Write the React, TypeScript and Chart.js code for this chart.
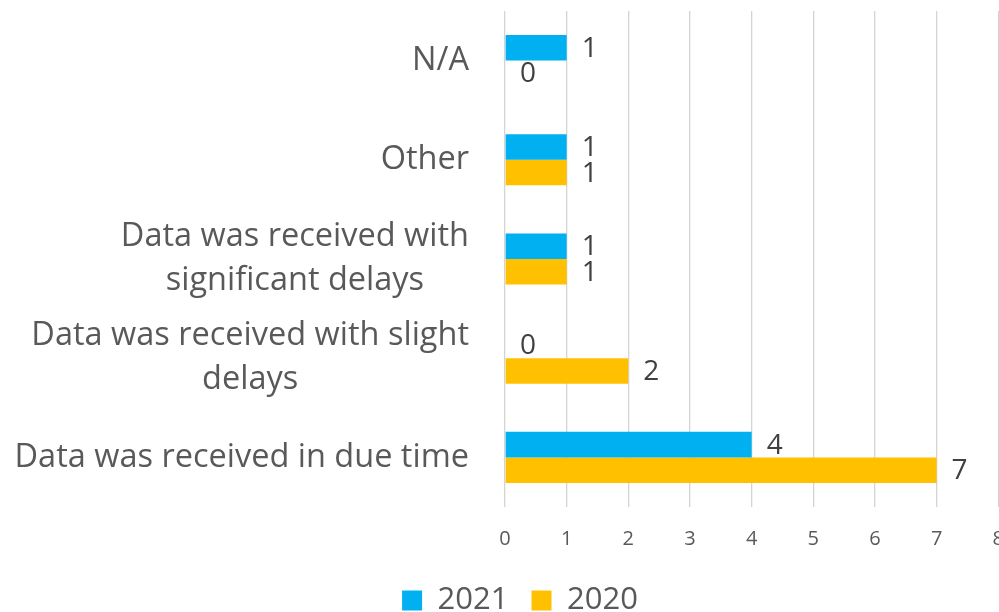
import React, { useEffect, useRef } from "react";
import { Chart, registerables } from "chart.js";

Chart.register(...registerables);

const categories: string[][] = [
  ["N/A"],
  ["Other"],
  ["Data was received with", "significant delays"],
  ["Data was received with slight", "delays"],
  ["Data was received in due time"],
];
const seriesNames = ["2021", "2020"];
const values2021 = [1, 1, 1, 0, 4];
const values2020 = [0, 1, 1, 2, 7];
const xMin = 0;
const xMax = 8;
const xStep = 1;

const FONT = "'Open Sans', sans-serif";
const BLUE = "#00B0F0";
const GOLD = "#FFC000";

const labelPlugin = {
  id: "customLabels",
  afterDatasetsDraw(chart: any) {
    const ctx = chart.ctx as CanvasRenderingContext2D;
    ctx.save();
    // data labels
    ctx.font = `28px ${FONT}`;
    ctx.fillStyle = "#404040";
    ctx.textAlign = "left";
    ctx.textBaseline = "middle";
    chart.data.datasets.forEach((ds: any, di: number) => {
      const meta = chart.getDatasetMeta(di);
      meta.data.forEach((bar: any, i: number) => {
        ctx.fillText(String(ds.data[i]), bar.x + 15, bar.y + 1);
      });
    });
    // category labels
    const yScale = chart.scales.y;
    const right = chart.chartArea.left - 36;
    ctx.font = `32.5px ${FONT}`;
    ctx.fillStyle = "#595959";
    ctx.textAlign = "center";
    chart.data.labels.forEach((lab: any, i: number) => {
      const lines: string[] = Array.isArray(lab) ? lab : [lab];
      const w = Math.max(...lines.map((l) => ctx.measureText(l).width));
      const cx = right - w / 2;
      const cy = yScale.getPixelForValue(i);
      lines.forEach((l, j) => {
        ctx.fillText(l, cx, cy + (j - (lines.length - 1) / 2) * 44);
      });
    });
    ctx.restore();
  },
};

export default function App() {
  const ref = useRef<HTMLCanvasElement | null>(null);
  useEffect(() => {
    if (!ref.current) return;
    const chart = new Chart(ref.current, {
      type: "bar",
      data: {
        labels: categories as any,
        datasets: [
          { label: seriesNames[0], data: values2021, backgroundColor: BLUE, borderWidth: 0 },
          { label: seriesNames[1], data: values2020, backgroundColor: GOLD, borderWidth: 0 },
        ],
      },
      options: {
        indexAxis: "y",
        responsive: false,
        animation: false,
        devicePixelRatio: 1,
        layout: { padding: { left: 17, right: 1, top: 11, bottom: 0 } },
        datasets: { bar: { categoryPercentage: 0.515, barPercentage: 1 } } as any,
        scales: {
          x: {
            min: xMin,
            max: xMax,
            ticks: { stepSize: xStep, font: { size: 20, family: FONT }, color: "#595959", padding: 20 },
            grid: { color: "#d4d4d4", lineWidth: 1.3, drawTicks: false },
            border: { display: false },
            afterFit: (s: any) => {
              s.height -= 9;
            },
          },
          y: {
            ticks: { display: false },
            grid: { display: false },
            border: { display: false },
            afterFit: (s: any) => {
              s.width = 488;
            },
          },
        },
        plugins: {
          legend: {
            position: "bottom",
            labels: {
              boxWidth: 20,
              boxHeight: 20,
              padding: 23,
              font: { size: 31, family: FONT },
              color: "#595959",
            },
          },
          tooltip: { enabled: false },
        },
      },
      plugins: [labelPlugin],
    });
    return () => chart.destroy();
  }, []);
  return (
    <div style={{ position: "absolute", left: 0, top: 0, width: 999, height: 612, overflow: "hidden", background: "#fff" }}>
      <canvas ref={ref} width={1024} height={626} style={{ width: 1024, height: 626, display: "block" }} />
    </div>
  );
}
